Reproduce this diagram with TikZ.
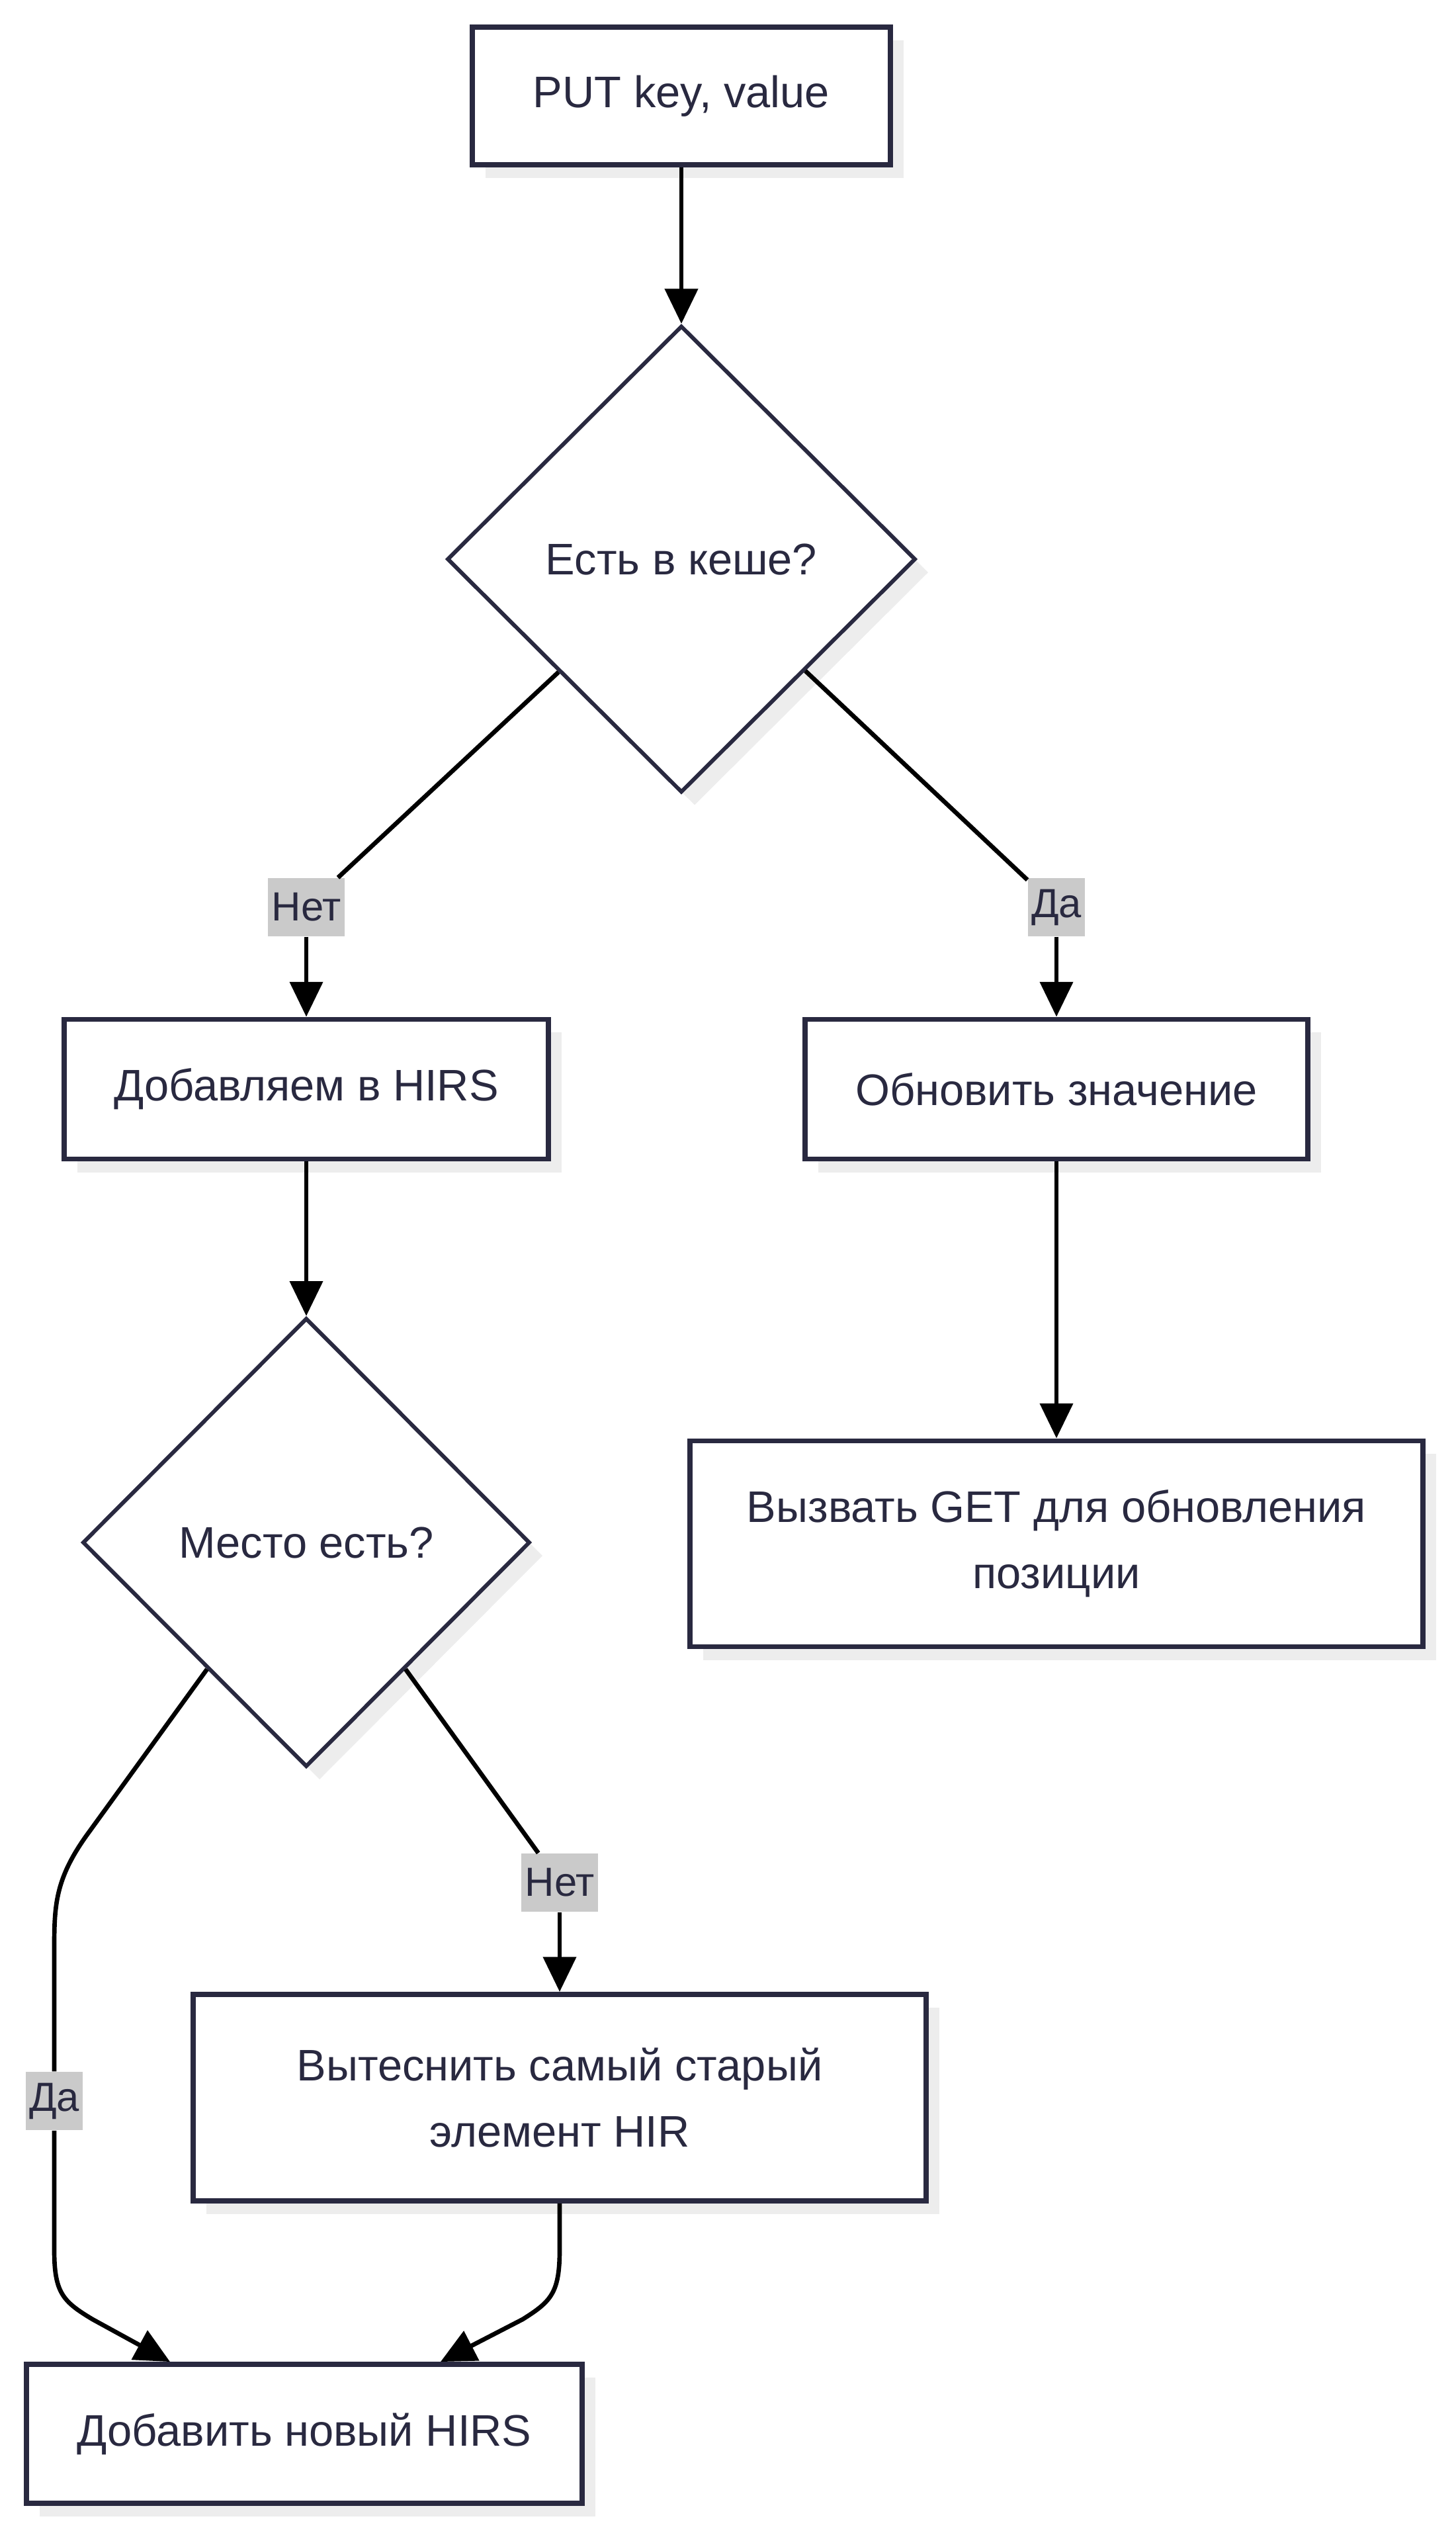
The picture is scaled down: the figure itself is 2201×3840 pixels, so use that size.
\documentclass[tikz,border=0pt]{standalone}
\usepackage{fontspec}
\setmainfont{Liberation Sans}
\usetikzlibrary{shapes.geometric,arrows.meta,calc,shadows}
\definecolor{ink}{RGB}{41,41,64}
\definecolor{shade}{RGB}{237,237,237}
\definecolor{lblgray}{RGB}{202,202,202}
\begin{document}
\begin{tikzpicture}[x=0.01cm,y=-0.01cm,
  box/.style={rectangle, draw=ink, line width=2.2pt, fill=white, text=ink,
    font=\fontsize{19}{28.5}\selectfont, align=center, inner sep=0pt,
    general shadow={fill=shade, shadow xshift=0.2cm, shadow yshift=-0.2cm}},
  dec/.style={diamond, draw=ink, line width=1.7pt, fill=white, text=ink,
    font=\fontsize{19}{28.5}\selectfont, inner sep=0pt, aspect=1,
    general shadow={fill=shade, shadow xshift=0.2cm, shadow yshift=-0.2cm}},
  lbl/.style={fill=lblgray, text=ink, font=\fontsize{17.5}{26}\selectfont,
    inner xsep=1.5pt, inner ysep=0pt, minimum height=0.88cm},
  edge/.style={draw=black, line width=1.9pt},
  arr/.style={edge, -{Triangle[length=15pt,width=14pt]}}
]
\useasboundingbox (0,0) rectangle (2201,3840);

% nodes
\node[box, minimum width=6.32cm, minimum height=2.08cm] (put) at (1030,145) {PUT key, value};
\node[dec, minimum width=7.08cm, minimum height=7.05cm] (d1) at (1030,845) {Есть в кеше?};
\node[box, minimum width=7.32cm, minimum height=2.11cm] (addh) at (463,1646) {Добавляем в HIRS};
\node[box, minimum width=7.6cm, minimum height=2.11cm] (upd) at (1597,1646) {Обновить значение};
\node[dec, minimum width=6.76cm, minimum height=6.78cm] (d2) at (463,2331) {Место есть?};
\node[box, minimum width=11.07cm, minimum height=3.11cm] (get) at (1597,2333) {Вызвать GET для обновления\\позиции};
\node[box, minimum width=11.07cm, minimum height=3.12cm] (evict) at (846,3170) {Вытеснить самый старый\\элемент HIR};
\node[box, minimum width=8.4cm, minimum height=2.1cm] (addn) at (460,3678) {Добавить новый HIRS};

% edge labels
\node[lbl] (l1) at (463,1371) {Нет};
\node[lbl] (l2) at (1597,1371) {Да};
\node[lbl] (l3) at (846,2845) {Нет};
\node[lbl] (l4) at (82,3175) {Да};

% connectors
\draw[arr] (put) -- (d1);
\draw[edge] ($(d1.west)!0.48!(d1.south)$) -- (l1);
\draw[arr] (l1) -- (addh);
\draw[edge] ($(d1.south)!0.525!(d1.east)$) -- (l2);
\draw[arr] (l2) -- (upd);
\draw[arr] (addh) -- (d2);
\draw[arr] (upd) -- (get);
\draw[edge] ($(d2.south)!0.44!(d2.east)$) -- (l3);
\draw[arr] (l3) -- (evict);
\draw[edge] ($(d2.west)!0.56!(d2.south)$) -- (135,2768) .. controls (82,2840) and (82,2880) .. (82,2950) -- (l4);
\draw[arr] (l4) -- (82,3400) .. controls (82,3465) and (95,3478) .. (140,3505) -- ($(addn.north)+(-203,0)$);
\draw[arr] (evict.south) -- (846,3400) .. controls (846,3465) and (833,3478) .. (790,3505) -- ($(addn.north)+(206,0)$);
\end{tikzpicture}
\end{document}
